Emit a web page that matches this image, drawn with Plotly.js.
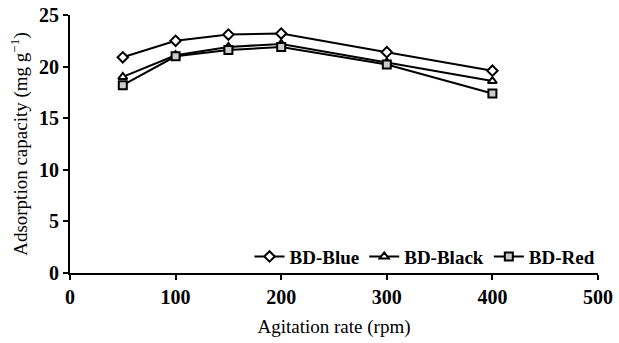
<!DOCTYPE html>
<html><head><meta charset="utf-8">
<script src="https://cdn.plot.ly/plotly-3.0.1.min.js"></script>
<style>body{margin:0;background:#fff}#c{width:619px;height:343px}</style>
</head><body><div id="c"></div>
<script>
const rpm = [50, 100, 150, 200, 300, 400];
const blue = [20.9, 22.5, 23.1, 23.2, 21.4, 19.6];
const black = [19.0, 21.1, 21.9, 22.2, 20.4, 18.6];
const red = [18.2, 21.0, 21.6, 21.9, 20.2, 17.4];
const names = ['BD-Blue', 'BD-Black', 'BD-Red'];

const mk = (y, name, sym, fill) => ({
  x: rpm, y: y, name: name, type: 'scatter', mode: 'lines+markers',
  line: {color: '#000', width: 2},
  marker: {symbol: sym, size: 8, color: fill, line: {color: '#000', width: 2}}
});
const data = [
  mk(blue, names[0], 'diamond', '#fff'),
  mk(black, names[1], 'triangle-up', '#fff'),
  mk(red, names[2], 'square', '#ccc')
];
const fam = 'Liberation Serif';
const f = (size, weight) => ({family: fam, size: size, color: '#000', weight: weight || 'normal'});
const layout = {
  width: 619, height: 343,
  margin: {l: 70, r: 21, t: 15, b: 70},
  paper_bgcolor: '#fff', plot_bgcolor: '#fff',
  font: f(18),
  showlegend: true,
  legend: {orientation: 'h', x: 0.34, xanchor: 'left', y: -0.01, yanchor: 'bottom',
    font: f(19, 'bold'), itemwidth: 30, tracegroupgap: 0, bgcolor: 'rgba(0,0,0,0)'},
  xaxis: {range: [0, 500], tickvals: [0,100,200,300,400,500], showgrid: false, zeroline: false,
    showline: true, linecolor: '#000', linewidth: 2, ticks: 'outside', ticklen: 5, tickcolor: '#000', tickwidth: 2,
    tickfont: f(20, 'bold'),
    title: {text: 'Agitation rate (rpm)', font: f(19), standoff: 13}},
  yaxis: {range: [0, 25], tickvals: [0,5,10,15,20,25], showgrid: false, zeroline: false,
    showline: true, linecolor: '#000', linewidth: 2, ticks: 'outside', ticklen: 5, tickcolor: '#000', tickwidth: 2,
    tickfont: f(20, 'bold'),
    title: {text: 'Adsorption capacity (mg g<sup>−1</sup>)', font: f(19), standoff: 6}}
};
Plotly.newPlot('c', data, layout, {displayModeBar: false});
</script></body></html>
